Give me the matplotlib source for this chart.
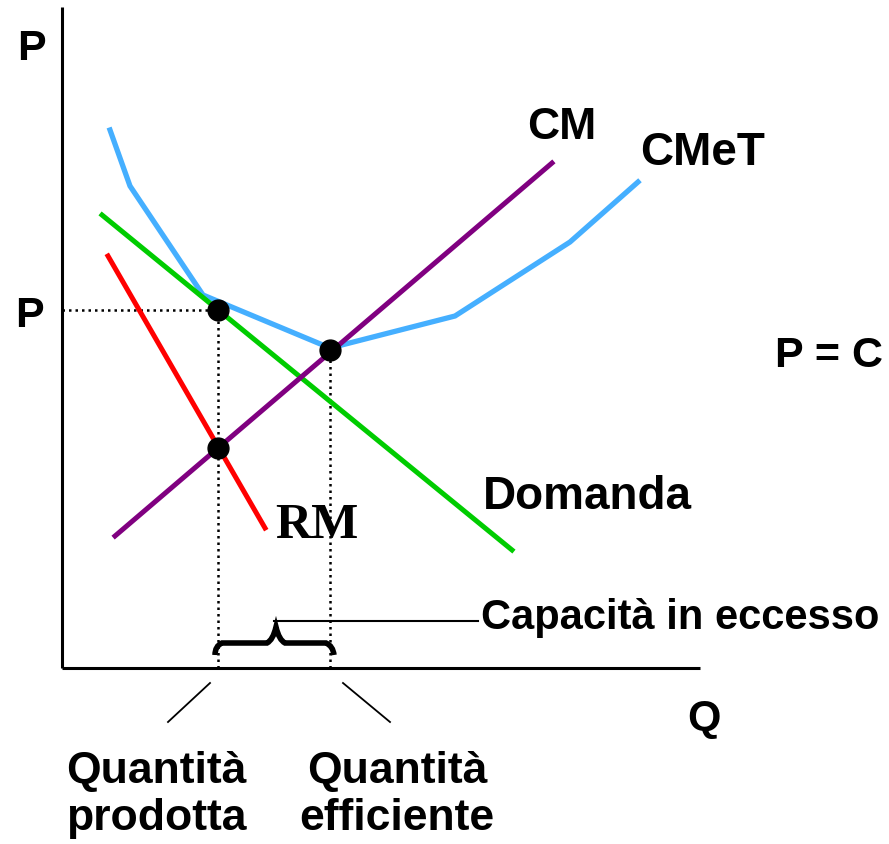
import matplotlib.pyplot as plt
from matplotlib.path import Path
from matplotlib.patches import PathPatch

# coordinate units: Q to the right of the P axis, P above the Q axis
cmet_q = [48, 68, 141, 268, 393, 508, 576]
cmet_p = [538, 482, 373, 320, 352, 426, 486]
dom_q = [40, 450]
dom_p = [453, 118]
rm_q = [46, 203]
rm_p = [412, 140]
cm_q = [53, 490]
cm_p = [132, 505]

q_prod = 156
q_eff = 268
p_level = 358
p_cm_rm = 220
p_cm_cmet = 318

fig = plt.figure(figsize=(8.89, 8.44), dpi=100)
ax = fig.add_axes([0, 0, 1, 1])
ax.set_xlim(-62, 827)
ax.set_ylim(-176, 668)
ax.axis('off')

# axes
ax.plot([0, 0], [0, 661], color='black', lw=2.2, solid_capstyle='butt')
ax.plot([0, 638], [0, 0], color='black', lw=2.2, solid_capstyle='butt')

# dotted guides
dots = dict(color='black', lw=1.8, linestyle=(0, (1, 1.6)))
ax.plot([0, q_prod], [p_level, p_level], **dots)
ax.plot([q_prod, q_prod], [0, p_level], **dots)
ax.plot([q_eff, q_eff], [0, p_cm_cmet], **dots)

# curves
ax.plot(cmet_q, cmet_p, color='#45AFFF', lw=3.8, solid_joinstyle='miter')
ax.plot(dom_q, dom_p, color='#00CC00', lw=3.6)
ax.plot(rm_q, rm_p, color='#FF0000', lw=3.6)
ax.plot(cm_q, cm_p, color='#800080', lw=3.6)

# points
ax.plot([q_prod, q_eff, q_prod], [p_level, p_cm_cmet, p_cm_rm], 'o',
        color='black', markersize=15)

# brace over excess capacity
mid = (q_prod + q_eff) / 2 + 2
verts = [(q_prod - 3, 13), (q_prod - 3, 22), (q_prod + 4, 25),
         (mid - 9, 25), (mid - 3, 28), (mid, 41),
         (mid + 3, 28), (mid + 9, 25),
         (q_eff - 4, 25), (q_eff + 3, 22), (q_eff + 4, 13)]
codes = [Path.MOVETO, Path.CURVE3, Path.CURVE3,
         Path.LINETO, Path.CURVE3, Path.CURVE3,
         Path.CURVE3, Path.CURVE3,
         Path.LINETO, Path.CURVE3, Path.CURVE3]
ax.add_patch(PathPatch(Path(verts, codes), facecolor='none',
                       edgecolor='black', lw=4))
ax.plot([mid - 2, 416], [47, 47], color='black', lw=1.5)

# pointers to the quantity labels
ax.plot([148, 106], [-15, -54], color='black', lw=1.3)
ax.plot([281, 328], [-15, -54], color='black', lw=1.3)

bold = dict(family='Liberation Sans', fontweight='bold', color='black')
ax.text(-45, 608, 'P', fontsize=31, **bold)
ax.text(-47, 341, 'P', fontsize=31, **bold)
ax.text(625, -62, 'Q', fontsize=31, **bold)
ax.text(465, 529, 'CM', fontsize=32, **bold)
ax.text(578, 503, 'CMeT', fontsize=33, **bold)
ax.text(713, 301, 'P = C', fontsize=31, **bold)
ax.text(421, 159, 'Domanda', fontsize=33, **bold)
ax.text(419, 39, 'Capacità in eccesso', fontsize=30, **bold)
ax.text(213, 130, 'RM', fontsize=36, family='Liberation Serif',
        fontweight='bold', color='black')
ax.text(94, -115, 'Quantità', fontsize=32, ha='center', **bold)
ax.text(94, -162, 'prodotta', fontsize=32, ha='center', **bold)
ax.text(335, -115, 'Quantità', fontsize=32, ha='center', **bold)
ax.text(335, -162, 'efficiente', fontsize=32, ha='center', **bold)

fig.savefig('out.png', dpi=100)
